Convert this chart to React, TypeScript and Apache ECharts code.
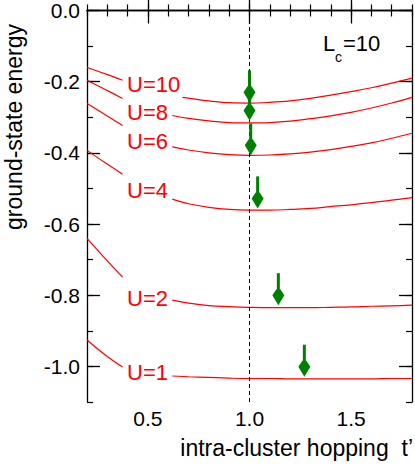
import React, { useEffect, useRef } from "react";
import * as echarts from "echarts";

// ---- data ----
const curveNames = ["U=10", "U=8", "U=6", "U=4", "U=2", "U=1"];
const leftT = [0.2, 0.29, 0.375];
const leftE10 = [-0.16, -0.178, -0.196];
const leftE8 = [-0.196, -0.222, -0.247];
const leftE6 = [-0.261, -0.293, -0.323];
const leftE4 = [-0.393, -0.428, -0.46];
const leftE2 = [-0.64, -0.697, -0.749];
const leftE1 = [-0.926, -0.968, -1.002];

const rightT10 = [0.67, 0.8, 0.9, 1.0, 1.1, 1.2, 1.3, 1.4, 1.5, 1.6, 1.7, 1.8];
const rightE10 = [-0.244, -0.254, -0.259, -0.26, -0.258, -0.254, -0.247, -0.238, -0.228, -0.217, -0.204, -0.19];
const rightT = [0.62, 0.7, 0.8, 0.9, 1.0, 1.1, 1.2, 1.3, 1.4, 1.5, 1.6, 1.7, 1.8];
const rightE8 = [-0.295, -0.303, -0.31, -0.315, -0.316, -0.315, -0.311, -0.304, -0.296, -0.286, -0.274, -0.26, -0.244];
const rightE6 = [-0.383, -0.392, -0.4, -0.405, -0.407, -0.406, -0.403, -0.398, -0.391, -0.382, -0.372, -0.359, -0.345];
const rightE4 = [-0.53, -0.543, -0.553, -0.559, -0.561, -0.561, -0.559, -0.556, -0.551, -0.546, -0.54, -0.533, -0.526];
const rightE2 = [-0.814, -0.822, -0.829, -0.832, -0.834, -0.835, -0.835, -0.835, -0.834, -0.833, -0.831, -0.83, -0.828];
const rightE1 = [-1.027, -1.029, -1.031, -1.033, -1.034, -1.034, -1.035, -1.035, -1.035, -1.035, -1.035, -1.034, -1.034];

const arrowT = [1.0, 1.0, 1.006, 1.04, 1.142, 1.27];
const arrowE = [-0.258, -0.309, -0.407, -0.556, -0.828, -1.029];

const xMajor = [0.5, 1.0, 1.5];
const yMajor = [-1.0, -0.8, -0.6, -0.4, -0.2, 0.0];
const guideT = 1.0;

const FONT = "'Liberation Sans', Arial, Helvetica, sans-serif";
const RED = "#ff0000";
const GREEN = "#008000";

const zip = (a: number[], b: number[]) => a.map((v, i) => [v, b[i]]);

export default function App() {
  const ref = useRef<HTMLDivElement>(null);
  useEffect(() => {
    if (!ref.current) return;
    const chart = echarts.init(ref.current, null, { renderer: "svg" });
    const grid = { left: 87, right: 3, top: 10, bottom: 68 };

    const lefts = [leftE10, leftE8, leftE6, leftE4, leftE2, leftE1];
    const rights = [
      zip(rightT10, rightE10),
      zip(rightT, rightE8),
      zip(rightT, rightE6),
      zip(rightT, rightE4),
      zip(rightT, rightE2),
      zip(rightT, rightE1),
    ];

    const lineSeries: any[] = [];
    curveNames.forEach((n, i) => {
      lineSeries.push({
        type: "line",
        name: n + "-a",
        data: zip(leftT, lefts[i]),
        showSymbol: false,
        smooth: 0.4,
        lineStyle: { color: RED, width: 1.2 },
        silent: true,
      });
      lineSeries.push({
        type: "line",
        name: n + "-b",
        data: rights[i],
        showSymbol: false,
        smooth: 0.4,
        lineStyle: { color: RED, width: 1.2 },
        silent: true,
      });
    });

    lineSeries[0].markLine = {
      silent: true,
      symbol: "none",
      label: { show: false },
      lineStyle: { color: "#000", type: [4, 3], width: 1 },
      data: [{ xAxis: guideT }],
    };

    const mkX = (pos: string, major: boolean, labels: boolean) => ({
      type: "value",
      position: pos,
      min: 0.2,
      max: 1.8,
      ...(major ? {} : { interval: 0.1 }),
      gridIndex: 0,
      axisLine: { show: !major, lineStyle: { color: "#000", width: 1.3 } },
      axisTick: major
        ? { show: true, inside: true, length: 13, customValues: xMajor, lineStyle: { color: "#000", width: 1.3 } }
        : { show: true, inside: true, length: 6, lineStyle: { color: "#000", width: 1.2 } },
      axisLabel: labels
        ? {
            show: true,
            customValues: xMajor,
            formatter: (v: number) => v.toFixed(1),
            color: "#000",
            fontSize: 21,
            fontFamily: FONT,
            margin: 6,
          }
        : { show: false },
      splitLine: { show: false },
    });
    const mkY = (pos: string, major: boolean, labels: boolean) => ({
      type: "value",
      position: pos,
      min: -1.1,
      max: 0.0,
      ...(major ? {} : { interval: 0.1 }),
      gridIndex: 0,
      axisLine: { show: !major, lineStyle: { color: "#000", width: 1.3 } },
      axisTick: major
        ? { show: true, inside: true, length: 13, customValues: yMajor, lineStyle: { color: "#000", width: 1.3 } }
        : { show: true, inside: true, length: 6, lineStyle: { color: "#000", width: 1.2 } },
      axisLabel: labels
        ? {
            show: true,
            customValues: yMajor,
            formatter: (v: number) => (Math.abs(v) < 1e-9 ? "0.0" : v.toFixed(1)),
            color: "#000",
            fontSize: 21,
            fontFamily: FONT,
            margin: 7,
          }
        : { show: false },
      splitLine: { show: false },
    });

    const arrowSeries = {
      type: "custom",
      xAxisIndex: 0,
      yAxisIndex: 0,
      data: zip(arrowT, arrowE),
      silent: true,
      z: 5,
      renderItem: (_p: any, api: any) => {
        const c = api.coord([api.value(0), api.value(1)]);
        const x = c[0];
        const tip = c[1];
        const headH = 16;
        const stemL = 16;
        const top = tip - headH;
        return {
          type: "group",
          children: [
            {
              type: "line",
              shape: { x1: x, y1: top - stemL, x2: x, y2: top + 3 },
              style: { stroke: GREEN, lineWidth: 3 },
            },
            {
              type: "polygon",
              shape: {
                points: [
                  [x - 2, top],
                  [x + 2, top],
                  [x + 6, top + 6],
                  [x, tip],
                  [x - 6, top + 6],
                ],
              },
              style: { fill: GREEN },
            },
          ],
        };
      },
    };

    const labelY = [84, 112, 141, 190, 298, 372];

    const graphic: any[] = curveNames.map((n, i) => ({
      type: "text",
      x: 127,
      y: labelY[i],
      style: {
        text: n,
        fill: RED,
        font: `22px ${FONT}`,
        textAlign: "left",
        textVerticalAlign: "middle",
      },
      silent: true,
    }));
    graphic.push(
      {
        type: "text",
        x: 323,
        y: 43,
        style: { text: "L", fill: "#000", font: `22px ${FONT}`, textAlign: "left", textVerticalAlign: "middle" },
      },
      {
        type: "text",
        x: 335,
        y: 57,
        style: { text: "c", fill: "#000", font: `14px ${FONT}`, textAlign: "left", textVerticalAlign: "middle" },
      },
      {
        type: "text",
        x: 343,
        y: 43,
        style: { text: "=10", fill: "#000", font: `22px ${FONT}`, textAlign: "left", textVerticalAlign: "middle" },
      },
      {
        type: "text",
        x: 413,
        y: 448,
        style: {
          text: "intra-cluster hopping  t\u2019",
          fill: "#000",
          font: `23px ${FONT}`,
          textAlign: "right",
          textVerticalAlign: "middle",
        },
      },
      {
        type: "text",
        x: 14,
        y: 127,
        rotation: Math.PI / 2,
        style: {
          text: "ground-state energy",
          fill: "#000",
          font: `23px ${FONT}`,
          textAlign: "center",
          textVerticalAlign: "middle",
        },
      }
    );

    chart.setOption({
      animation: false,
      backgroundColor: "#fff",
      grid,
      xAxis: [mkX("bottom", false, false), mkX("bottom", true, true), mkX("top", false, false), mkX("top", true, false)],
      yAxis: [mkY("left", false, false), mkY("left", true, true), mkY("right", false, false), mkY("right", true, false)],
      series: [...lineSeries, arrowSeries],
      graphic,
    });
    return () => chart.dispose();
  }, []);
  return <div ref={ref} style={{ position: "fixed", left: 0, top: 0, width: 415, height: 470 }} />;
}
